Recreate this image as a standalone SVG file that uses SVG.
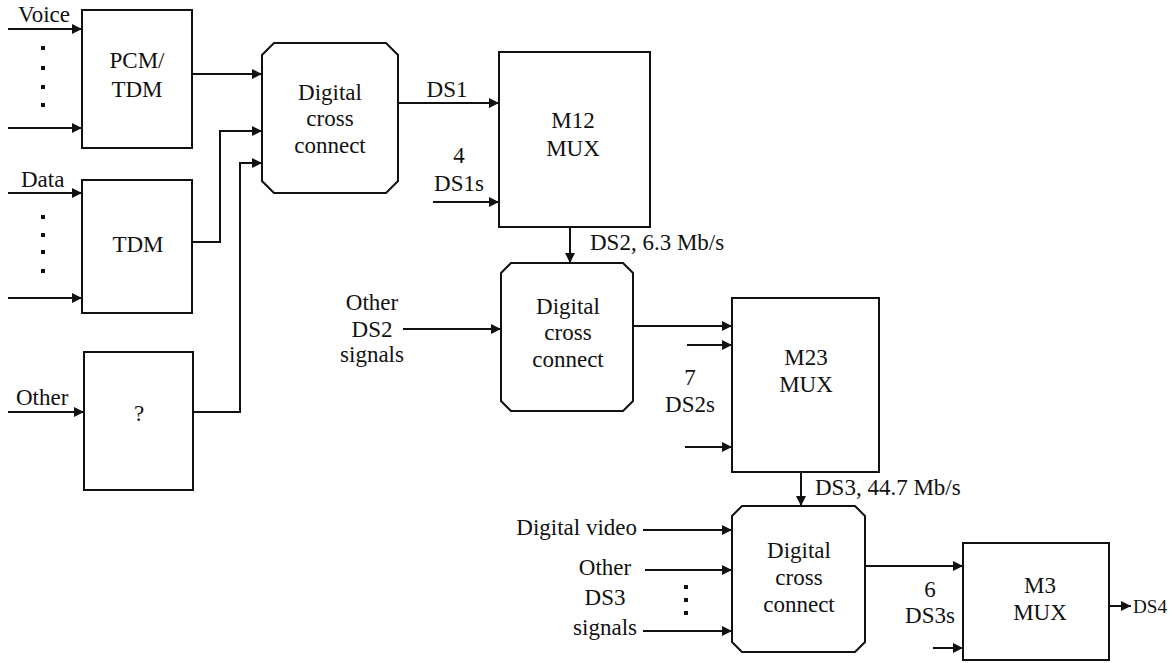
<svg xmlns="http://www.w3.org/2000/svg" width="1172" height="663" viewBox="0 0 1172 663">
<style>
.box{fill:none;stroke:#111;stroke-width:2}
.ar{fill:none;stroke:#111;stroke-width:2;marker-end:url(#ah)}
.t{font-family:"Liberation Serif","Times New Roman",Times,serif;font-size:23px;fill:#111}
.c{text-anchor:middle}
.e{text-anchor:end}
.dot{fill:#111}
</style>
<defs>
<marker id="ah" markerUnits="userSpaceOnUse" markerWidth="11" markerHeight="10" refX="10" refY="5" orient="auto">
<path d="M0,0 L10,5 L0,10 z" fill="#111"/>
</marker>
</defs>
<rect width="1172" height="663" fill="#fff"/>

<g id="pcm">
<rect class="box" x="82" y="10" width="110" height="138"/>
<text class="t c" x="137" y="68">PCM/</text>
<text class="t c" x="137" y="97">TDM</text>
</g>
<g id="tdm">
<rect class="box" x="82" y="180" width="110" height="133"/>
<text class="t c" x="138" y="252">TDM</text>
</g>
<g id="unknown">
<rect class="box" x="84" y="352" width="109" height="138"/>
<text class="t c" x="139" y="421">?</text>
</g>
<g id="dcc1">
<path class="box" d="M274,43 L386,43 L398,55 L398,181 L386,193 L274,193 L262,181 L262,55 Z"/>
<text class="t c" x="330" y="100">Digital</text>
<text class="t c" x="330" y="126">cross</text>
<text class="t c" x="330" y="153">connect</text>
</g>
<g id="m12">
<rect class="box" x="499" y="52" width="151" height="175"/>
<text class="t c" x="573" y="128">M12</text>
<text class="t c" x="573" y="156">MUX</text>
</g>
<g id="dcc2">
<path class="box" d="M511,263 L623,263 L633,273 L633,401 L623,411 L511,411 L501,401 L501,273 Z"/>
<text class="t c" x="568" y="314">Digital</text>
<text class="t c" x="568" y="340">cross</text>
<text class="t c" x="568" y="367">connect</text>
</g>
<g id="m23">
<rect class="box" x="732" y="298" width="147" height="174"/>
<text class="t c" x="806" y="365">M23</text>
<text class="t c" x="806" y="392">MUX</text>
</g>
<g id="dcc3">
<path class="box" d="M742,506 L855,506 L865,516 L865,642 L855,652 L742,652 L732,642 L732,516 Z"/>
<text class="t c" x="799" y="558">Digital</text>
<text class="t c" x="799" y="585">cross</text>
<text class="t c" x="799" y="612">connect</text>
</g>
<g id="m3">
<rect class="box" x="963" y="543" width="146" height="117"/>
<text class="t c" x="1040" y="593">M3</text>
<text class="t c" x="1040" y="620">MUX</text>
</g>

<g id="connectors">
<path class="ar" d="M8,29 L82,29"/>
<path class="ar" d="M8,128 L82,128"/>
<path class="ar" d="M8,193 L82,193"/>
<path class="ar" d="M8,298 L82,298"/>
<path class="ar" d="M8,412 L84,412"/>
<path class="ar" d="M192,74 L262,74"/>
<path class="ar" d="M192,242 L220,242 L220,131 L262,131"/>
<path class="ar" d="M193,412 L240,412 L240,163 L262,163"/>
<path class="ar" d="M398,103 L499,103"/>
<path class="ar" d="M433,202 L499,202"/>
<path class="ar" d="M570,227 L570,263"/>
<path class="ar" d="M403,329 L501,329"/>
<path class="ar" d="M633,326 L732,326"/>
<path class="ar" d="M687,345 L732,345"/>
<path class="ar" d="M685,447 L732,447"/>
<path class="ar" d="M801,472 L801,506"/>
<path class="ar" d="M643,530 L732,530"/>
<path class="ar" d="M645,570 L732,570"/>
<path class="ar" d="M643,631 L732,631"/>
<path class="ar" d="M865,566 L963,566"/>
<path class="ar" d="M933,648 L963,648"/>
<path class="ar" d="M1109,606 L1131,606"/>
</g>

<g id="labels">
<text class="t" x="18" y="22">Voice</text>
<text class="t" x="21" y="187">Data</text>
<text class="t" x="16" y="405">Other</text>
<rect class="dot" x="41" y="46" width="4" height="4"/>
<rect class="dot" x="41" y="66" width="4" height="4"/>
<rect class="dot" x="41" y="85" width="4" height="4"/>
<rect class="dot" x="41" y="103" width="4" height="4"/>
<rect class="dot" x="41" y="215" width="4" height="4"/>
<rect class="dot" x="41" y="233" width="4" height="4"/>
<rect class="dot" x="41" y="250" width="4" height="4"/>
<rect class="dot" x="41" y="269" width="4" height="4"/>
<text class="t c" x="447" y="97">DS1</text>
<text class="t c" x="459" y="163">4</text>
<text class="t c" x="459" y="191">DS1s</text>
<text class="t" x="590" y="250">DS2, 6.3 Mb/s</text>
<text class="t c" x="372" y="310">Other</text>
<text class="t c" x="372" y="337">DS2</text>
<text class="t c" x="372" y="362">signals</text>
<text class="t c" x="690" y="385">7</text>
<text class="t c" x="690" y="412">DS2s</text>
<text class="t" x="815" y="495">DS3, 44.7 Mb/s</text>
<text class="t e" x="637" y="535">Digital video</text>
<text class="t c" x="605" y="575">Other</text>
<text class="t c" x="605" y="605">DS3</text>
<text class="t e" x="637" y="635">signals</text>
<rect class="dot" x="684" y="585" width="4" height="4"/>
<rect class="dot" x="684" y="598" width="4" height="4"/>
<rect class="dot" x="684" y="611" width="4" height="4"/>
<text class="t c" x="930" y="597">6</text>
<text class="t c" x="930" y="623">DS3s</text>
<text class="t" x="1133" y="613" style="font-size:19px" textLength="34" lengthAdjust="spacingAndGlyphs">DS4</text>
</g>
</svg>
